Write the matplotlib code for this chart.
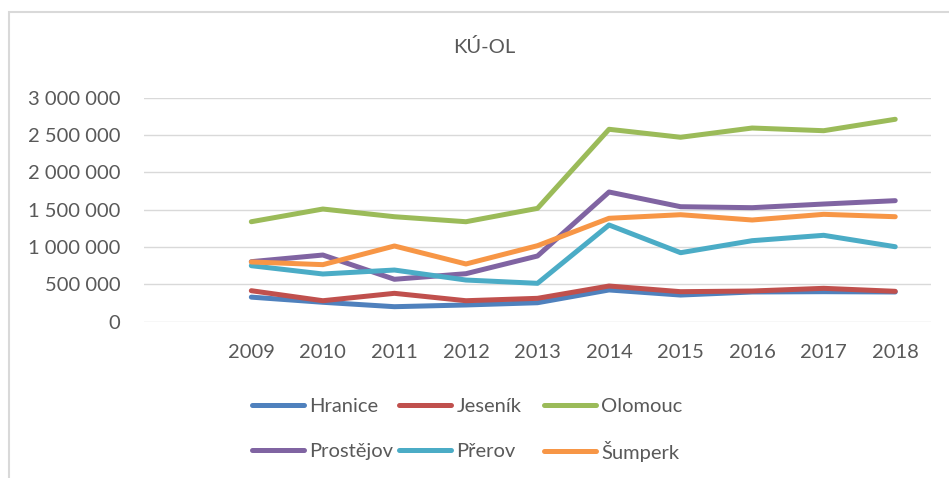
import matplotlib
matplotlib.use("Agg")
import matplotlib.pyplot as plt
from matplotlib.patches import Rectangle

plt.rcParams['font.family'] = ['Lato', 'DejaVu Sans']

# first category is left empty, as in the source sheet
categories = ["", "2009", "2010", "2011", "2012", "2013", "2014", "2015", "2016", "2017", "2018"]

hranice = [329000, 260000, 201000, 224000, 254000, 425000, 357000, 398000, 402000, 398000]
jesenik = [415000, 281000, 380000, 281000, 313000, 478000, 402000, 411000, 447000, 407000]
olomouc = [1339000, 1509000, 1406000, 1339000, 1518000, 2577000, 2470000, 2594000, 2558000, 2711000]
prostejov = [804000, 893000, 568000, 643000, 880000, 1737000, 1540000, 1527000, 1576000, 1621000]
prerov = [750000, 639000, 692000, 558000, 514000, 1295000, 924000, 1085000, 1157000, 1004000]
sumperk = [800000, 764000, 1014000, 773000, 1018000, 1385000, 1433000, 1362000, 1438000, 1406000]

names = ["Hranice", "Jeseník", "Olomouc", "Prostějov", "Přerov", "Šumperk"]
series = [hranice, jesenik, olomouc, prostejov, prerov, sumperk]
colors = ["#4F81BD", "#C0504D", "#9BBB59", "#8064A2", "#4BACC6", "#F79646"]

yticks = [0, 500000, 1000000, 1500000, 2000000, 2500000, 3000000]

txt = "#595959"
W, H = 949, 478
fig = plt.figure(figsize=(W / 100, H / 100), dpi=100)
ax = fig.add_axes([144 / W, 1 - 321.7 / H, (931 - 144) / W, 224 / H])

xs = list(range(1, len(categories)))
lines = []
for vals, name, c in zip(series, names, colors):
    ln, = ax.plot(xs, vals, color=c, lw=3.6, label=name,
                  solid_capstyle="round", solid_joinstyle="round")
    lines.append(ln)

ax.set_xlim(-0.5, len(categories) - 0.5)
ax.set_ylim(0, 3000000)
ax.set_xticks(range(len(categories)))
ax.set_xticklabels(categories)
ax.set_yticks(yticks)
ax.set_yticklabels([f"{v:,}".replace(",", " ") for v in yticks])
ax.tick_params(length=0, labelsize=14.5, labelcolor=txt)
ax.tick_params(axis="y", pad=17)
ax.tick_params(axis="x", pad=16)
ax.grid(axis="y", color="#D9D9D9", lw=1)
ax.set_axisbelow(True)
for s in ax.spines.values():
    s.set_visible(False)

fig.text(484 / W, 1 - 47 / H, "KÚ-OL", ha="center", va="center",
         fontsize=14.5, color=txt)

# legend: 3 columns x 2 rows, one small legend per entry so rows line up
col_x = [252, 399, 544]
row_y = [406, 451]
for i, (ln, name) in enumerate(zip(lines, names)):
    x = col_x[i % 3]
    y = row_y[i // 3]
    leg = fig.legend([ln], [name], loc="center left",
                     bbox_to_anchor=(x / W, 1 - y / H),
                     frameon=False, borderpad=0, borderaxespad=0,
                     handlelength=2.6, handletextpad=0.25,
                     fontsize=14.5, labelcolor=txt)

fig.patches.append(Rectangle((8.5 / W, -0.1), 1.2, 1.1 - 11.7 / H,
                             transform=fig.transFigure, fill=False,
                             ec="#D9D9D9", lw=1.5))

fig.savefig("out.png", dpi=100)
